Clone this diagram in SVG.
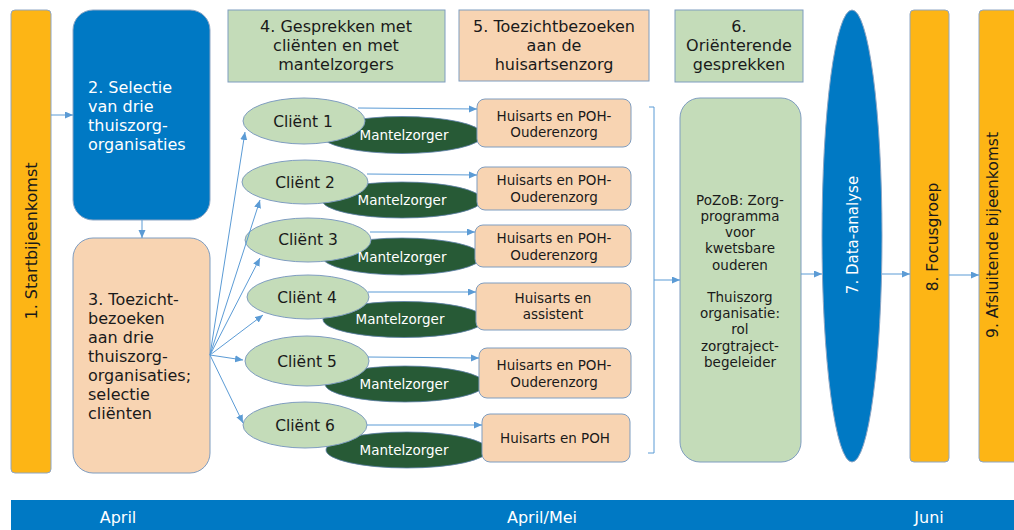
<svg xmlns="http://www.w3.org/2000/svg" width="1014" height="530" viewBox="0 0 1014 530">
<style>
text{font-family:"DejaVu Sans","Verdana",sans-serif;fill:#1a1a1a}
.w{fill:#ffffff}
.orange{fill:#FDB515;stroke:#8EA6C4;stroke-width:1}
.blue{fill:#0079C4;stroke:#8EA6C4;stroke-width:1}
.peach{fill:#F8D4B2;stroke:#7F9DC0;stroke-width:1}
.green{fill:#C4DCB9;stroke:#7F9DC0;stroke-width:1}
.dark{fill:#275A36;stroke:#5C7FA8;stroke-width:0.8}
.c{text-anchor:middle}
.h16{font-size:16px}
.f15{font-size:15.5px}
.f13{font-size:13.5px}
.con line,.con path{stroke:#5B9BD5;stroke-width:1;fill:none}
</style>
<defs>
<marker id="ah" markerUnits="userSpaceOnUse" markerWidth="9" markerHeight="8" refX="8" refY="3.5" orient="auto">
<path d="M0,0 L8,3.5 L0,7 z" fill="#5B9BD5"/>
</marker>
</defs>

<g id="timeline">
<rect x="11" y="500" width="1003" height="30" fill="#0079C4"/>
<text class="w c h16" x="118" y="523">April</text>
<text class="w c h16" x="542" y="523">April/Mei</text>
<text class="w c h16" x="929" y="523">Juni</text>
</g>

<g id="n1">
<rect class="orange" x="11" y="10" width="40" height="463" rx="4"/>
<text class="c h16" transform="translate(37,241) rotate(-90)">1. Startbijeenkomst</text>
</g>

<g id="n2">
<rect class="blue" x="73" y="10" width="137" height="210" rx="20"/>
<text class="w h16" x="88" y="93">2. Selectie</text>
<text class="w h16" x="88" y="112">van drie</text>
<text class="w h16" x="88" y="131">thuiszorg-</text>
<text class="w h16" x="88" y="150">organisaties</text>
</g>

<g id="n3">
<rect class="peach" x="73" y="238" width="137" height="235" rx="20"/>
<text class="h16" x="88" y="305">3. Toezicht-</text>
<text class="h16" x="88" y="324">bezoeken</text>
<text class="h16" x="88" y="343">aan drie</text>
<text class="h16" x="88" y="362">thuiszorg-</text>
<text class="h16" x="88" y="381">organisaties;</text>
<text class="h16" x="88" y="400">selectie</text>
<text class="h16" x="88" y="419">cliënten</text>
</g>

<g id="n4">
<rect class="green" x="228" y="10" width="217" height="72"/>
<text class="c h16" x="336" y="32">4. Gesprekken met</text>
<text class="c h16" x="336" y="51">cliënten en met</text>
<text class="c h16" x="336" y="70">mantelzorgers</text>
</g>

<g id="n5">
<rect class="peach" x="459" y="10" width="190" height="71"/>
<text class="c h16" x="554" y="32">5. Toezichtbezoeken</text>
<text class="c h16" x="554" y="51">aan de</text>
<text class="c h16" x="554" y="70">huisartsenzorg</text>
</g>

<g id="n6">
<rect class="green" x="675" y="10" width="128" height="72"/>
<text class="c h16" x="739" y="32">6.</text>
<text class="c h16" x="739" y="51">Oriënterende</text>
<text class="c h16" x="739" y="70">gesprekken</text>
</g>

<g id="n6b">
<rect class="green" x="680" y="98" width="121" height="364" rx="20"/>
<text class="c f13" x="740" y="205">PoZoB: Zorg-</text>
<text class="c f13" x="740" y="221">programma</text>
<text class="c f13" x="740" y="237">voor</text>
<text class="c f13" x="740" y="253">kwetsbare</text>
<text class="c f13" x="740" y="270">ouderen</text>
<text class="c f13" x="740" y="302">Thuiszorg</text>
<text class="c f13" x="740" y="318">organisatie:</text>
<text class="c f13" x="740" y="334">rol</text>
<text class="c f13" x="740" y="351">zorgtraject-</text>
<text class="c f13" x="740" y="367">begeleider</text>
</g>

<g id="n7">
<ellipse class="blue" cx="852" cy="236" rx="30" ry="226"/>
<text class="w c" font-size="15" transform="translate(858,235) rotate(-90)">7. Data-analyse</text>
</g>

<g id="n8">
<rect class="orange" x="910" y="10" width="39" height="452" rx="4"/>
<text class="c f15" transform="translate(938,237) rotate(-90)">8. Focusgroep</text>
</g>

<g id="n9">
<rect class="orange" x="979" y="10" width="40" height="452" rx="4"/>
<text class="c f15" transform="translate(998,235) rotate(-90)">9. Afsluitende bijeenkomst</text>
</g>

<g id="clients">
<g id="client1">
<ellipse class="dark" cx="402" cy="135" rx="81" ry="18.5"/>
<ellipse class="green" cx="304" cy="121" rx="61" ry="23"/>
<text class="c f15" x="303" y="127">Cliënt 1</text>
<text class="w c f13" x="404" y="140">Mantelzorger</text>
</g>
<g id="client2">
<ellipse class="dark" cx="402" cy="200" rx="80" ry="18"/>
<ellipse class="green" cx="305" cy="182" rx="63" ry="22"/>
<text class="c f15" x="305" y="188">Cliënt 2</text>
<text class="w c f13" x="402" y="205">Mantelzorger</text>
</g>
<g id="client3">
<ellipse class="dark" cx="402" cy="256.5" rx="80" ry="18.5"/>
<ellipse class="green" cx="308" cy="240" rx="63" ry="22"/>
<text class="c f15" x="308" y="245">Cliënt 3</text>
<text class="w c f13" x="402" y="262">Mantelzorger</text>
</g>
<g id="client4">
<ellipse class="dark" cx="404" cy="319.5" rx="81" ry="18"/>
<ellipse class="green" cx="308" cy="297" rx="61" ry="22"/>
<text class="c f15" x="307" y="303">Cliënt 4</text>
<text class="w c f13" x="400" y="324">Mantelzorger</text>
</g>
<g id="client5">
<ellipse class="dark" cx="405" cy="384" rx="80" ry="18"/>
<ellipse class="green" cx="307" cy="361" rx="62" ry="25"/>
<text class="c f15" x="307" y="367">Cliënt 5</text>
<text class="w c f13" x="404" y="389">Mantelzorger</text>
</g>
<g id="client6">
<ellipse class="dark" cx="407" cy="450" rx="81" ry="18"/>
<ellipse class="green" cx="305" cy="425" rx="62" ry="23"/>
<text class="c f15" x="305" y="431">Cliënt 6</text>
<text class="w c f13" x="404" y="455">Mantelzorger</text>
</g>
</g>

<g id="huisarts">
<g id="ha1">
<rect class="peach" x="477" y="99" width="154" height="48" rx="8"/>
<text class="c f13" x="554" y="121">Huisarts en POH-</text>
<text class="c f13" x="554" y="137">Ouderenzorg</text>
</g>
<g id="ha2">
<rect class="peach" x="477" y="167" width="154" height="43" rx="8"/>
<text class="c f13" x="554" y="185">Huisarts en POH-</text>
<text class="c f13" x="554" y="202">Ouderenzorg</text>
</g>
<g id="ha3">
<rect class="peach" x="475" y="225" width="156" height="42" rx="8"/>
<text class="c f13" x="554" y="243">Huisarts en POH-</text>
<text class="c f13" x="554" y="260">Ouderenzorg</text>
</g>
<g id="ha4">
<rect class="peach" x="476" y="283" width="155" height="47" rx="8"/>
<text class="c f13" x="553" y="303">Huisarts en</text>
<text class="c f13" x="553" y="319">assistent</text>
</g>
<g id="ha5">
<rect class="peach" x="479" y="348" width="152" height="50" rx="8"/>
<text class="c f13" x="554" y="370">Huisarts en POH-</text>
<text class="c f13" x="554" y="387">Ouderenzorg</text>
</g>
<g id="ha6">
<rect class="peach" x="482" y="414" width="148" height="48" rx="8"/>
<text class="c f13" x="555" y="443">Huisarts en POH</text>
</g>
</g>

<g id="connectors" class="con">
<line x1="51" y1="115" x2="73" y2="115" marker-end="url(#ah)"/>
<line x1="142" y1="220" x2="142" y2="238" marker-end="url(#ah)"/>
<line x1="210" y1="355" x2="245" y2="132" marker-end="url(#ah)"/>
<line x1="210" y1="355" x2="260" y2="200" marker-end="url(#ah)"/>
<line x1="210" y1="355" x2="260" y2="258" marker-end="url(#ah)"/>
<line x1="210" y1="355" x2="263" y2="315" marker-end="url(#ah)"/>
<line x1="210" y1="355" x2="243" y2="360" marker-end="url(#ah)"/>
<line x1="210" y1="355" x2="243" y2="423" marker-end="url(#ah)"/>
<line x1="358" y1="108" x2="477" y2="109" marker-end="url(#ah)"/>
<line x1="367" y1="174" x2="477" y2="175" marker-end="url(#ah)"/>
<line x1="370" y1="232" x2="475" y2="232" marker-end="url(#ah)"/>
<line x1="368" y1="292" x2="476" y2="292" marker-end="url(#ah)"/>
<line x1="368" y1="357" x2="479" y2="358" marker-end="url(#ah)"/>
<line x1="367" y1="425" x2="482" y2="425" marker-end="url(#ah)"/>
<path d="M649,107 L654,107 L654,453 L648,453"/>
<line x1="654" y1="280" x2="680" y2="280" marker-end="url(#ah)"/>
<line x1="801" y1="274" x2="822" y2="274" marker-end="url(#ah)"/>
<line x1="882" y1="274" x2="910" y2="274" marker-end="url(#ah)"/>
<line x1="949" y1="275" x2="979" y2="275" marker-end="url(#ah)"/>
</g>
</svg>
